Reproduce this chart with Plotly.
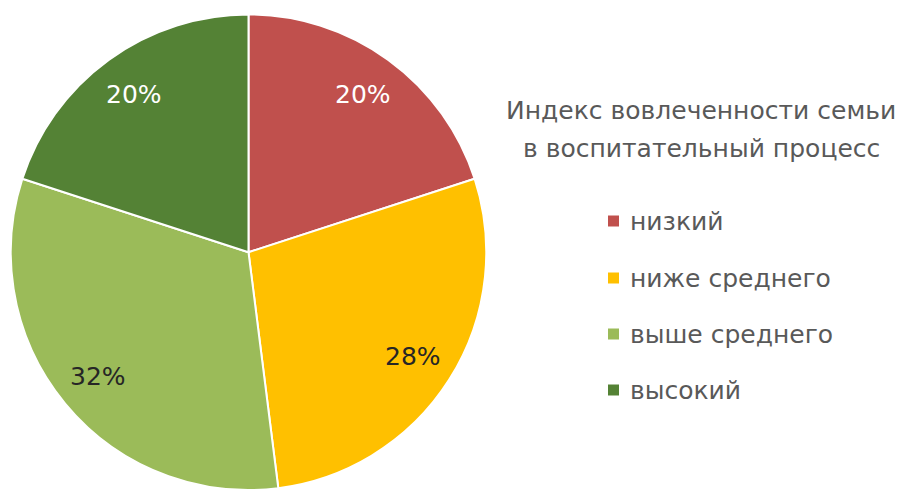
import math
import plotly.graph_objects as go

# Engagement index categories and their shares (%)
labels = ["низкий", "ниже среднего", "выше среднего", "высокий"]
values = [20, 28, 32, 20]
colors = ["#C0504D", "#FFC000", "#9BBB59", "#548235"]
text_colors = ["#FFFFFF", "#262626", "#262626", "#FFFFFF"]
legend_title_lines = ["Индекс вовлеченности семьи", "в воспитательный процесс"]

W, H = 904, 490
FONT = "DejaVu Sans"
GREY = "#595959"

# Pie placement in pixels
dom_x = [10.5 / W, 486.5 / W]
dom_y = [0.0, 1 - 14.5 / H]

fig = go.Figure(
    go.Pie(
        labels=labels,
        values=values,
        sort=False,
        direction="clockwise",
        rotation=0,
        marker=dict(colors=colors, line=dict(color="#FFFFFF", width=2)),
        textinfo="none",
        hoverinfo="label+percent",
        showlegend=False,
        domain=dict(x=dom_x, y=dom_y),
    )
)

# Percentage labels at a fixed fraction of the radius, centred on each slice
cx = (dom_x[0] + dom_x[1]) / 2 * W
cy = (1 - (dom_y[0] + dom_y[1]) / 2) * H
R = min((dom_x[1] - dom_x[0]) * W, (dom_y[1] - dom_y[0]) * H) / 2
total = sum(values)
cum = 0
annotations = []
for v, tc in zip(values, text_colors):
    mid = (cum + v / 2) / total * 2 * math.pi
    cum += v
    px = cx + 0.82 * R * math.sin(mid)
    py = cy - 0.82 * R * math.cos(mid)
    annotations.append(dict(
        x=px / W, y=1 - py / H, xref="paper", yref="paper",
        text=f"{round(v / total * 100)}%", showarrow=False,
        font=dict(family=FONT, size=25, color=tc),
        xanchor="center", yanchor="middle",
    ))

# Legend title, one annotation per line
for line, ly in zip(legend_title_lines, [110, 148]):
    annotations.append(dict(
        x=701 / W, y=1 - ly / H, xref="paper", yref="paper",
        text=line, showarrow=False,
        font=dict(family=FONT, size=25, color=GREY),
        xanchor="center", yanchor="middle",
    ))

# Legend entries
shapes = []
row_y = [221, 278, 334, 390]
for lab, col, ry in zip(labels, colors, row_y):
    shapes.append(dict(
        type="rect", xref="paper", yref="paper",
        x0=608 / W, x1=619 / W, y0=1 - (ry + 5.5) / H, y1=1 - (ry - 5.5) / H,
        fillcolor=col, line=dict(width=0),
    ))
    annotations.append(dict(
        x=628 / W, y=1 - ry / H, xref="paper", yref="paper",
        text=lab, showarrow=False,
        font=dict(family=FONT, size=25, color=GREY),
        xanchor="left", yanchor="middle",
    ))

fig.update_layout(
    width=W, height=H,
    margin=dict(l=0, r=0, t=0, b=0),
    paper_bgcolor="#FFFFFF",
    plot_bgcolor="#FFFFFF",
    annotations=annotations,
    shapes=shapes,
)

fig.write_html("out.html")
